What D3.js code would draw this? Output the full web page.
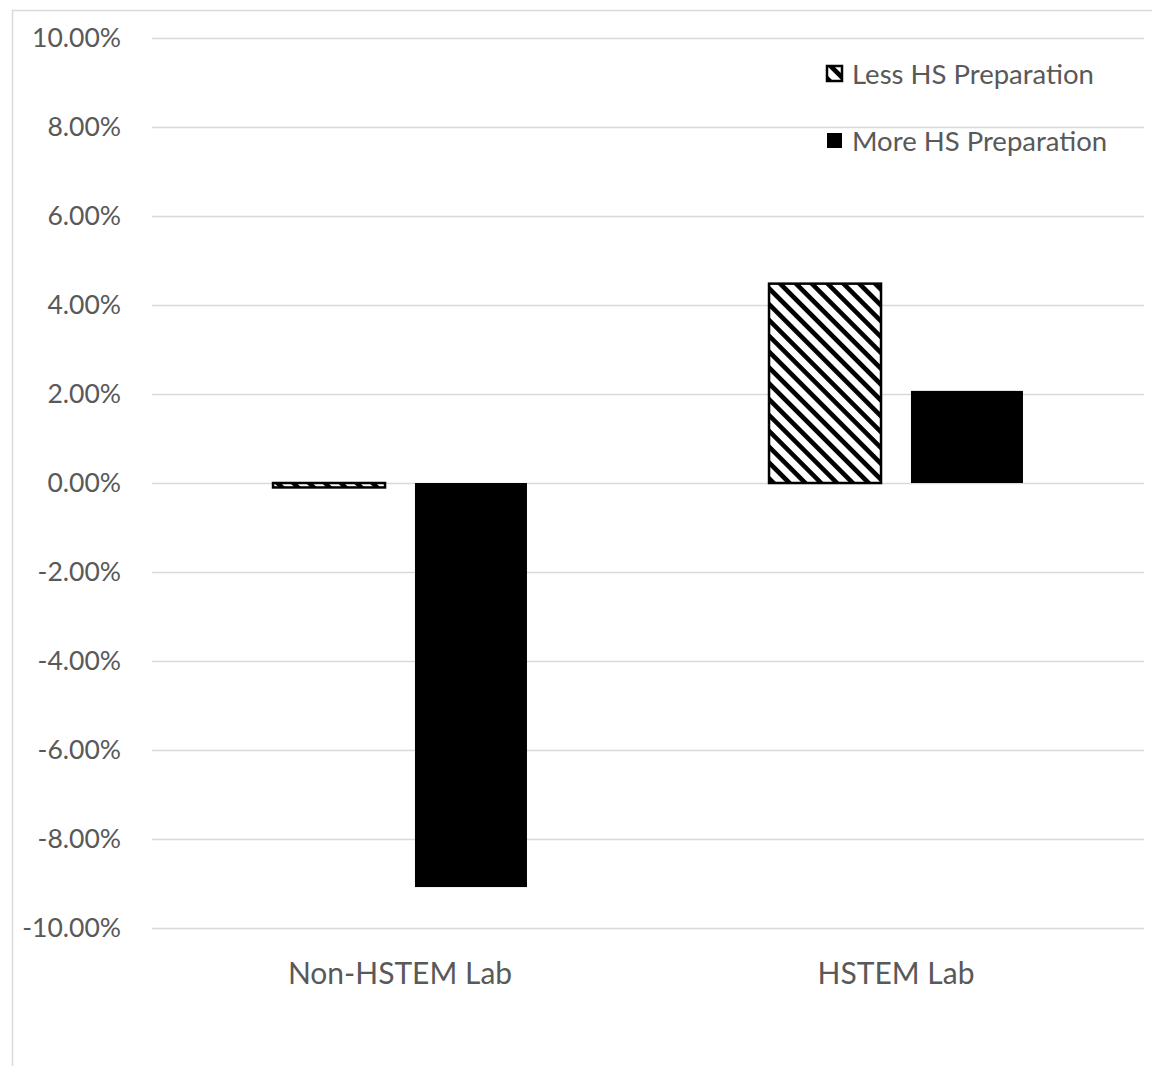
<!DOCTYPE html>
<html>
<head>
<meta charset="utf-8">
<script src="https://cdn.jsdelivr.net/npm/d3@7"></script>
<style>
  html, body { margin: 0; padding: 0; background: #fff; }
  svg { display: block; }
</style>
</head>
<body>
<svg id="chart" width="1152" height="1066"></svg>
<script>
// Change in outcome (percentage points) by lab type and high-school preparation
const categories = ["Non-HSTEM Lab", "HSTEM Lab"];
const seriesNames = ["Less HS Preparation", "More HS Preparation"];
const lessPrep = [-0.1, 4.48];
const morePrep = [-9.08, 2.07];
const tickValues = [-10, -8, -6, -4, -2, 0, 2, 4, 6, 8, 10];

const W = 1152, H = 1066;
const plot = { left: 152, right: 1144, top: 38, bottom: 928 };
const textColor = "#595959";
const gridColor = "#d9d9d9";
const font = "Lato, 'Open Sans', sans-serif";

const svg = d3.select("#chart");

// diagonal hatch used for the "less preparation" series
const defs = svg.append("defs");
const P = 11.2;
const pat = defs.append("pattern")
  .attr("id", "hatch")
  .attr("patternUnits", "userSpaceOnUse")
  .attr("width", P).attr("height", P)
  .attr("patternTransform", "rotate(45)");
pat.append("rect").attr("width", P).attr("height", P).attr("fill", "#fff");
pat.append("rect").attr("width", P).attr("height", 4.6).attr("fill", "#000");

// chart frame (left and top edges)
svg.append("path")
  .attr("d", `M12.5,${H} L12.5,10.5 L${W},10.5`)
  .attr("fill", "none").attr("stroke", gridColor).attr("stroke-width", 1.5);

const y = d3.scaleLinear().domain([-10, 10]).range([plot.bottom, plot.top]);
const x0 = d3.scaleBand().domain(categories).range([plot.left, plot.right]).paddingInner(0.488).paddingOuter(0.244);
const x1 = d3.scaleBand().domain(seriesNames).range([0, x0.bandwidth()]).paddingInner(0.211);

// percent labels with a plain hyphen for negatives
const fmt = v => v.toFixed(2) + "%";

// horizontal gridlines and value labels
const yAxis = d3.axisLeft(y).tickValues(tickValues).tickFormat(fmt)
  .tickSize(-(plot.right - plot.left)).tickPadding(31);
const gy = svg.append("g").attr("transform", `translate(${plot.left},0)`).call(yAxis);
gy.select(".domain").remove();
gy.selectAll(".tick line").attr("stroke", gridColor).attr("stroke-width", 1.5);
gy.selectAll(".tick text")
  .attr("fill", textColor).attr("font-family", font).attr("font-size", 26.5);

// bars
const rows = categories.map((c, i) => ({ cat: c, values: [lessPrep[i], morePrep[i]] }));
const groups = svg.append("g").selectAll("g").data(rows).join("g")
  .attr("transform", d => `translate(${x0(d.cat)},0)`);
groups.selectAll("rect")
  .data(d => d.values.map((v, j) => ({ name: seriesNames[j], v })))
  .join("rect")
  .attr("x", d => x1(d.name))
  .attr("width", x1.bandwidth())
  .attr("y", d => y(Math.max(0, d.v)))
  .attr("height", d => Math.abs(y(d.v) - y(0)))
  .attr("fill", d => d.name === seriesNames[0] ? "url(#hatch)" : "#000")
  .attr("stroke", d => d.name === seriesNames[0] ? "#000" : "none")
  .attr("stroke-width", 2.5);

// category labels
const xAxis = d3.axisBottom(x0).tickSize(0).tickPadding(0);
const gx = svg.append("g").attr("transform", `translate(0,${plot.bottom + 35})`).call(xAxis);
gx.select(".domain").remove();
gx.selectAll(".tick text")
  .attr("fill", textColor).attr("font-family", font).attr("font-size", 30);

// legend
const legend = svg.append("g").attr("transform", "translate(826,0)");
const legendRows = [
  { name: seriesNames[0], fill: "url(#hatch)", stroke: "#000", y: 74 },
  { name: seriesNames[1], fill: "#000", stroke: "none", y: 141 }
];
const li = legend.selectAll("g").data(legendRows).join("g")
  .attr("transform", d => `translate(0,${d.y})`);
li.append("rect")
  .attr("x", 1).attr("y", -8).attr("width", 15).attr("height", 15)
  .attr("fill", d => d.fill).attr("stroke", d => d.stroke).attr("stroke-width", 2.5);
li.append("text")
  .attr("x", 26).attr("y", 0).attr("dy", "0.35em")
  .attr("fill", textColor).attr("font-family", font).attr("font-size", 27.5)
  .text(d => d.name);
</script>
</body>
</html>
